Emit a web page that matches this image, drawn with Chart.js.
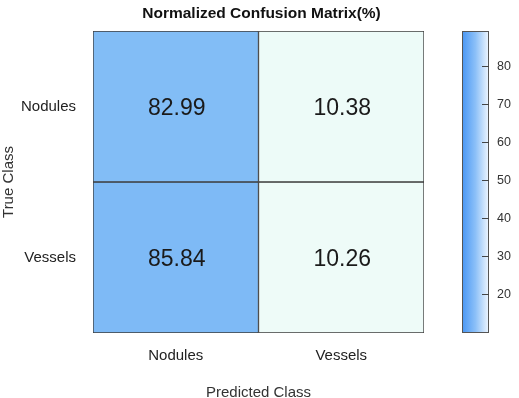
<!DOCTYPE html>
<html>
<head>
<meta charset="utf-8">
<script src="https://cdn.jsdelivr.net/npm/chart.js@4.4.1/dist/chart.umd.min.js"></script>
<style>
  html, body { margin: 0; padding: 0; background: #fff; }
</style>
</head>
<body>
<canvas id="cm" width="519" height="398"></canvas>
<script>
// Normalized confusion matrix (%), rows = true class, cols = predicted class
var trueClasses = ['Nodules', 'Vessels'];
var predictedClasses = ['Nodules', 'Vessels'];
var rowNodules = [82.99, 10.38];
var rowVessels = [85.84, 10.26];
var colorbarTicks = [20, 30, 40, 50, 60, 70, 80];
var colorbarMin = 9.6;
var colorbarMax = 89.3;
var chartTitle = 'Normalized Confusion Matrix(%)';

var rows = [rowNodules, rowVessels];
var FONT = '"Liberation Sans", Arial, sans-serif';

// light mint -> blue, same mapping for cells
var lowColor = [238, 251, 248];
var highColor = [126, 186, 246];

function cellColor(v) {
    var t = (v - 10) / (86 - 10);
    t = Math.max(0, Math.min(1, t));
    var c = lowColor.map(function(lo, i) {
        return Math.round(lo + (highColor[i] - lo) * t);
    });
    return 'rgb(' + c.join(',') + ')';
}

// one dataset per true-class row; each bar spans its row band on the y scale
var n = trueClasses.length;
var datasets = rows.map(function(row, i) {
    return {
        label: trueClasses[i],
        data: row.map(function() { return [n - 1 - i, n - i]; }),
        values: row,
        backgroundColor: row.map(cellColor),
        borderColor: '#3c3c3c',
        borderWidth: 1,
        borderSkipped: false,
        categoryPercentage: 1,
        barPercentage: 1
    };
});

// write the percentage in the middle of each cell
var cellLabels = {
    id: 'cellLabels',
    afterDatasetsDraw: function(chart) {
        var ctx = chart.ctx;
        ctx.save();
        ctx.font = '23px ' + FONT;
        ctx.fillStyle = '#1a1a1a';
        ctx.textAlign = 'center';
        ctx.textBaseline = 'middle';
        chart.data.datasets.forEach(function(ds, i) {
            chart.getDatasetMeta(i).data.forEach(function(bar, j) {
                var p = bar.getCenterPoint();
                ctx.fillText(ds.values[j].toFixed(2), p.x + 1, p.y + 2);
            });
        });
        ctx.restore();
    }
};

// title centred over the plot area (not the whole canvas)
var plotTitle = {
    id: 'plotTitle',
    afterDraw: function(chart) {
        var ctx = chart.ctx;
        var area = chart.chartArea;
        ctx.save();
        ctx.font = 'bold 15.5px ' + FONT;
        ctx.fillStyle = '#111';
        ctx.textAlign = 'center';
        ctx.textBaseline = 'middle';
        ctx.fillText(chartTitle, (area.left + area.right) / 2 + 3, 14);
        ctx.restore();
    }
};

// vertical colour bar on the right, driven by the hidden y2 scale
var colorBar = {
    id: 'colorBar',
    afterDraw: function(chart) {
        var ctx = chart.ctx;
        var area = chart.chartArea;
        var scale = chart.scales.y2;
        var x0 = area.right + 38;
        var w = 27;
        var top = scale.getPixelForValue(colorbarMax);
        var bottom = scale.getPixelForValue(colorbarMin);

        ctx.save();
        var grad = ctx.createLinearGradient(x0, 0, x0 + w, 0);
        grad.addColorStop(0, '#4896f4');
        grad.addColorStop(0.5, '#8cc0f8');
        grad.addColorStop(1, '#f0f7ff');
        ctx.fillStyle = grad;
        ctx.fillRect(x0, top, w, bottom - top);
        ctx.strokeStyle = '#555';
        ctx.lineWidth = 1;
        ctx.strokeRect(x0 + 0.5, top + 0.5, w - 1, bottom - top - 1);

        ctx.font = '12.5px ' + FONT;
        ctx.fillStyle = '#333';
        ctx.textAlign = 'left';
        ctx.textBaseline = 'middle';
        colorbarTicks.forEach(function(t) {
            var y = Math.round(scale.getPixelForValue(t)) + 0.5;
            ctx.beginPath();
            ctx.moveTo(x0 + w - 7, y);
            ctx.lineTo(x0 + w, y);
            ctx.strokeStyle = '#444';
            ctx.stroke();
            ctx.fillText(String(t), x0 + w + 8, y);
        });
        ctx.restore();
    }
};

new Chart(document.getElementById('cm'), {
    type: 'bar',
    data: {
        labels: predictedClasses,
        datasets: datasets
    },
    options: {
        responsive: false,
        animation: false,
        layout: { padding: { left: 0, right: 95, top: 31, bottom: 0 } },
        plugins: {
            legend: { display: false },
            tooltip: { enabled: false },
            title: { display: false }
        },
        scales: {
            x: {
                stacked: true,
                grid: { display: false },
                border: { display: false },
                ticks: { color: '#222', font: { family: FONT, size: 15 }, padding: 6 },
                title: {
                    display: true,
                    text: 'Predicted Class',
                    color: '#333',
                    font: { family: FONT, size: 15 },
                    padding: { top: 0, bottom: -4 }
                },
                afterFit: function(scale) { scale.height = 65; }
            },
            y: {
                type: 'linear',
                min: 0,
                max: n,
                grid: { display: false },
                border: { display: false },
                afterBuildTicks: function(scale) {
                    scale.ticks = trueClasses.map(function(c, i) {
                        return { value: n - i - 0.5 };
                    });
                },
                ticks: {
                    color: '#222',
                    font: { family: FONT, size: 15 },
                    padding: 9,
                    callback: function(value) {
                        return trueClasses[n - 1 - Math.floor(value)];
                    }
                },
                title: {
                    display: true,
                    text: 'True Class',
                    color: '#333',
                    font: { family: FONT, size: 15 },
                    padding: { top: 0, bottom: 0 }
                },
                afterFit: function(scale) { scale.width = 93; }
            },
            y2: {
                type: 'linear',
                display: false,
                min: colorbarMin,
                max: colorbarMax
            }
        }
    },
    plugins: [cellLabels, plotTitle, colorBar]
});
</script>
</body>
</html>
